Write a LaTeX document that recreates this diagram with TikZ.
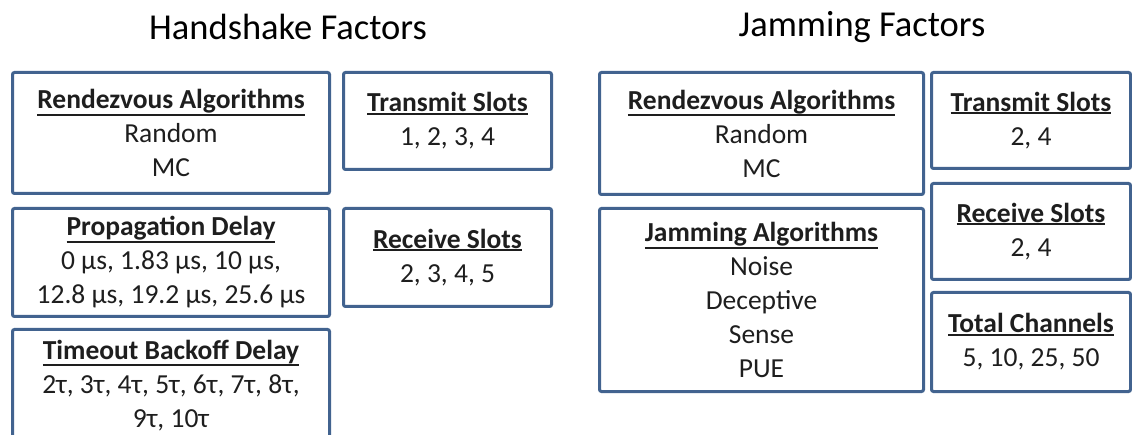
\documentclass[tikz,border=0pt]{standalone}
\usepackage{fontspec}
\setmainfont{Carlito}
\usepackage{tikz}
\definecolor{boxblue}{RGB}{66,99,143}
\definecolor{bodytext}{RGB}{30,30,30}
\newcommand{\fhead}[1]{\leavevmode\vtop{\hbox{\textbf{#1}}\kern0.5pt\hrule height 2pt}}

\begin{document}
\begin{tikzpicture}[x=1pt,y=-1pt,
    factorbox/.style={draw=boxblue,line width=3pt,rounded corners=2pt,
      inner sep=0pt,align=center,text=bodytext,
      font={\fontsize{27.5}{34}\selectfont}},
    factortitle/.style={text=black,font={\fontsize{36.5}{40}\selectfont}}]
        \useasboundingbox (0,0) rectangle (1132,435);
        % titles
        \node[factortitle] (hsTitle) at (288,27) {Handshake Factors};
        \node[factortitle] (jmTitle) at (862,27) {Jamming Factors};
        % handshake factors
        \node[factorbox,minimum width=317pt,minimum height=121pt] (hsRdv) at (171,133)
          {\fhead{Rendezvous Algorithms}\\Random\\MC};
        \node[factorbox,minimum width=208pt,minimum height=97pt] (hsTx) at (447.5,121)
          {\fhead{Transmit Slots}\\1, 2, 3, 4};
        \node[factorbox,minimum width=317pt,minimum height=108pt] (hsProp) at (171,262.5)
          {\fhead{Propagation Delay}\\0 µs, 1.83 µs, 10 µs,\\12.8 µs, 19.2 µs, 25.6 µs};
        \node[factorbox,minimum width=208pt,minimum height=98pt] (hsRx) at (447.5,257.5)
          {\fhead{Receive Slots}\\2, 3, 4, 5};
        \node[factorbox,minimum width=317pt,minimum height=112pt] (hsTo) at (171,385.5)
          {\fhead{Timeout Backoff Delay}\\2τ, 3τ, 4τ, 5τ, 6τ, 7τ, 8τ,\\9τ, 10τ};
        % jamming factors
        \node[factorbox,minimum width=324pt,minimum height=122pt] (jmRdv) at (761.5,133.5)
          {\fhead{Rendezvous Algorithms}\\Random\\MC};
        \node[factorbox,minimum width=324pt,minimum height=183pt] (jmAlg) at (761.5,300)
          {\fhead{Jamming Algorithms}\\Noise\\Deceptive\\Sense\\PUE};
        \node[factorbox,minimum width=199pt,minimum height=96pt] (jmTx) at (1031,120.5)
          {\fhead{Transmit Slots}\\2, 4};
        \node[factorbox,minimum width=199pt,minimum height=96pt] (jmRx) at (1031,231.5)
          {\fhead{Receive Slots}\\2, 4};
        \node[factorbox,minimum width=199pt,minimum height=99pt] (jmCh) at (1031,342)
          {\fhead{Total Channels}\\5, 10, 25, 50};
      \end{tikzpicture}
\end{document}
